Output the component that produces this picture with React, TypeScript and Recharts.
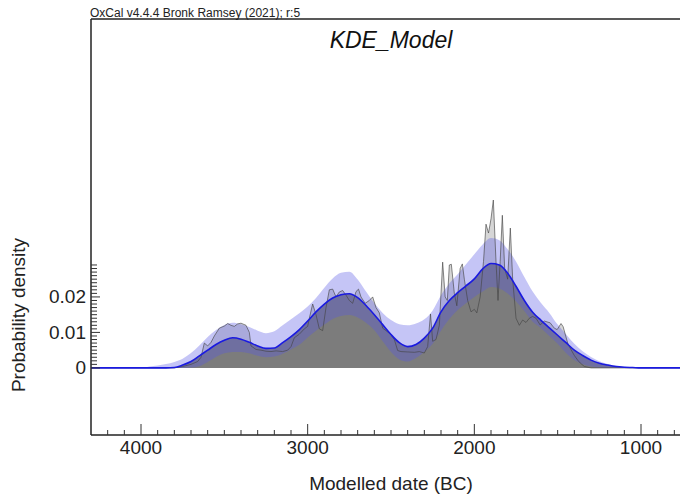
import React from 'react'
import { ComposedChart, Area, Line, XAxis, YAxis, ReferenceLine } from 'recharts'

// modelled date grid (BC) for the KDE summary curves
const years = [
  4300, 4000,
  3950, 3900, 3850, 3800, 3750, 3700, 3650, 3600, 3550, 3500,
  3450, 3400, 3350, 3300, 3250, 3200, 3150, 3100, 3050, 3000,
  2950, 2900, 2850, 2800, 2750, 2700, 2650, 2600, 2550, 2500,
  2450, 2400, 2350, 2300, 2250, 2200, 2150, 2100, 2050, 2000,
  1950, 1900, 1850, 1800, 1750, 1700, 1650, 1600, 1550, 1500,
  1450, 1400, 1350, 1300, 1250, 1200, 1150, 1100, 1050, 1000,
  900, 700,
]

const meanDensity = [
  0, 0,
  0, 0, 0, 0.0001, 0.0008, 0.0018, 0.0034, 0.005, 0.0066, 0.0078,
  0.0085, 0.0081, 0.0072, 0.0062, 0.0055, 0.0056, 0.0071, 0.0088, 0.0108, 0.0132,
  0.0158, 0.018, 0.0197, 0.0206, 0.0209, 0.0198, 0.0176, 0.015, 0.0122, 0.0094,
  0.0071, 0.006, 0.0066, 0.0084, 0.0112, 0.0158, 0.019, 0.0212, 0.0231, 0.0251,
  0.0279, 0.0294, 0.029, 0.0267, 0.023, 0.019, 0.0157, 0.0134, 0.0113, 0.0092,
  0.0071, 0.005, 0.0035, 0.0022, 0.0013, 0.0008, 0.0004, 0.0002, 0.0001, 0,
  0, 0,
]

const upperDensity = [
  0, 0,
  0.0004, 0.0007, 0.0011, 0.0017, 0.0026, 0.0042, 0.0063, 0.0087, 0.0107, 0.0121,
  0.0127, 0.0123, 0.0115, 0.0105, 0.0098, 0.0103, 0.012, 0.0137, 0.0154, 0.0173,
  0.0197, 0.0226, 0.0252, 0.0268, 0.0271, 0.0249, 0.0215, 0.0182, 0.0155, 0.0135,
  0.0123, 0.012, 0.0125, 0.0137, 0.0162, 0.0205, 0.0238, 0.0264, 0.0292, 0.032,
  0.0348, 0.0366, 0.036, 0.0334, 0.03, 0.0256, 0.0215, 0.0183, 0.0155, 0.0122,
  0.0095, 0.0068, 0.0047, 0.0031, 0.0019, 0.0011, 0.0006, 0.0003, 0.0001, 0,
  0, 0,
]

const lowerDensity = [
  0, 0,
  0, 0, 0, 0, 0, 0.0001, 0.0005, 0.0017, 0.0031, 0.0041,
  0.0045, 0.0045, 0.0041, 0.0034, 0.003, 0.0032, 0.004, 0.0052, 0.0065, 0.0086,
  0.0105, 0.0122, 0.0138, 0.0146, 0.0149, 0.0142, 0.0127, 0.0106, 0.0075, 0.0045,
  0.0024, 0.0018, 0.0028, 0.0045, 0.0068, 0.0105, 0.0138, 0.0163, 0.0182, 0.02,
  0.0215, 0.0228, 0.0224, 0.021, 0.0188, 0.016, 0.013, 0.0112, 0.009, 0.0068,
  0.0042, 0.0022, 0.001, 0.0004, 0.0001, 0, 0, 0, 0, 0,
  0, 0,
]

// unmodelled summed probability (the spiky light grey outline)
const sumYears = [
  4300, 3800, 3750, 3700, 3660, 3640, 3620, 3600, 3580, 3560,
  3530, 3500, 3480, 3460, 3440, 3420, 3400, 3370, 3350, 3340,
  3310, 3280, 3250, 3220, 3190, 3150, 3120, 3100, 3080, 3050,
  3020, 3000, 2990, 2970, 2950, 2930, 2910, 2890, 2870, 2850,
  2830, 2810, 2790, 2770, 2750, 2730, 2710, 2695, 2680, 2655,
  2630, 2610, 2590, 2570, 2550, 2530, 2500, 2480, 2460, 2440,
  2400, 2360, 2330, 2300, 2280, 2263, 2250, 2230, 2210, 2190,
  2175, 2162, 2150, 2138, 2120, 2105, 2085, 2072, 2060, 2040,
  2020, 2000, 1985, 1965, 1945, 1930, 1915, 1900, 1886, 1870,
  1858, 1845, 1832, 1818, 1800, 1784, 1770, 1750, 1730, 1710,
  1690, 1670, 1650, 1630, 1605, 1580, 1545, 1520, 1503, 1480,
  1467, 1440, 1425, 1400, 1380, 1365, 1340, 1300, 700,
]

const sumDensity = [
  0, 0, 0.0004, 0.001, 0.0018, 0.003, 0.007, 0.0062, 0.0072, 0.009,
  0.0112, 0.0118, 0.0125, 0.012, 0.0117, 0.0124, 0.0126, 0.012, 0.01, 0.0062,
  0.0052, 0.005, 0.0047, 0.0046, 0.0048, 0.0046, 0.005, 0.006, 0.0085, 0.0095,
  0.011, 0.0117, 0.014, 0.018, 0.015, 0.011, 0.0105, 0.017, 0.022, 0.0222,
  0.02, 0.0214, 0.0218, 0.0205, 0.019, 0.0182, 0.0215, 0.0222, 0.02, 0.0182,
  0.019, 0.02, 0.017, 0.0155, 0.0112, 0.0105, 0.0094, 0.008, 0.0049, 0.0046,
  0.0045, 0.0044, 0.0046, 0.0042, 0.006, 0.0152, 0.0075, 0.008, 0.012, 0.0298,
  0.02, 0.019, 0.029, 0.0292, 0.021, 0.0175, 0.028, 0.0293, 0.025, 0.019,
  0.0158, 0.0165, 0.0155, 0.02, 0.03, 0.0405, 0.038, 0.042, 0.0473, 0.03,
  0.019, 0.03, 0.043, 0.028, 0.025, 0.0394, 0.025, 0.014, 0.012, 0.0135,
  0.0128, 0.014, 0.0145, 0.014, 0.0121, 0.0132, 0.0127, 0.0112, 0.0108, 0.0125,
  0.0116, 0.007, 0.0056, 0.0035, 0.0022, 0.0014, 0.0004, 0, 0,
]

const yTickLabels = [0, 0.01, 0.02]
const xTickLabels = [4000, 3000, 2000, 1000]

const X_DOMAIN: [number, number] = [700, 4300]
const Y_DOMAIN: [number, number] = [-0.0189, 0.0983]
const LEFT = 91
const BOTTOM = 435
const FONT = '"Liberation Sans", Arial, sans-serif'

const yTicks = Array.from({ length: 30 }, (_, i) => i / 1000)
const xTicks = Array.from({ length: 35 }, (_, i) => 800 + i * 100)

const kdeData = years.map((year, i) => ({
  year,
  mean: meanDensity[i],
  band: [lowerDensity[i], upperDensity[i]],
}))
const sumData = sumYears.map((year, i) => ({ year, sum: sumDensity[i] }))

function YTick({ y, payload }: any) {
  const v = payload.value
  const labelled = yTickLabels.some(t => Math.abs(t - v) < 1e-9)
  return (
    <g>
      <line x1={LEFT} x2={LEFT + (labelled ? 9 : 6)} y1={y} y2={y} stroke="#333" strokeWidth={1} />
      {labelled && (
        <text x={86} y={y} textAnchor="end" dominantBaseline="central" fontSize={19} fill="#222" fontFamily={FONT}>
          {v === 0 ? '0' : v.toFixed(2)}
        </text>
      )}
    </g>
  )
}

function XTick({ x, payload }: any) {
  const labelled = xTickLabels.includes(payload.value)
  return (
    <g>
      <line x1={x} x2={x} y1={BOTTOM} y2={BOTTOM - (labelled ? 11 : 5)} stroke="#333" strokeWidth={1} />
      {labelled && (
        <text x={x} y={447} textAnchor="middle" dominantBaseline="central" fontSize={19} fill="#222" fontFamily={FONT}>
          {payload.value}
        </text>
      )}
    </g>
  )
}

export default function App() {
  return (
    <div style={{ position: 'fixed', left: 0, top: 0, width: 680, height: 496, overflow: 'hidden', background: '#fff' }}>
      <div style={{ position: 'relative', width: 700, height: 496 }}>
        <ComposedChart width={700} height={496} margin={{ top: 19, right: 9, bottom: 0, left: 0 }}>
          <XAxis
            type="number"
            dataKey="year"
            domain={X_DOMAIN}
            reversed
            allowDataOverflow
            ticks={xTicks}
            interval={0}
            tick={(p: any) => <XTick {...p} />}
            tickLine={false}
            height={61}
            axisLine={{ stroke: '#222', strokeWidth: 1.5 }}
          />
          <YAxis
            type="number"
            domain={Y_DOMAIN}
            allowDataOverflow
            ticks={yTicks}
            interval={0}
            tick={(p: any) => <YTick {...p} />}
            tickLine={false}
            width={91}
            axisLine={{ stroke: '#222', strokeWidth: 1.5 }}
          />
          <ReferenceLine y={Y_DOMAIN[1]} stroke="#222" strokeWidth={1.5} />
          <Area
            data={sumData}
            dataKey="sum"
            type="linear"
            fill="#d6d6d6"
            fillOpacity={1}
            stroke="none"
            baseValue={0}
            isAnimationActive={false}
          />
          <Area
            data={kdeData}
            dataKey="mean"
            type="monotone"
            fill="#7c7c7c"
            fillOpacity={1}
            stroke="none"
            baseValue={0}
            isAnimationActive={false}
          />
          <Area
            data={kdeData}
            dataKey="band"
            type="monotone"
            fill="#5a5ae6"
            fillOpacity={0.35}
            stroke="none"
            isAnimationActive={false}
          />
          <Line
            data={sumData}
            dataKey="sum"
            type="linear"
            stroke="#444"
            strokeWidth={0.8}
            strokeOpacity={0.8}
            dot={false}
            isAnimationActive={false}
          />
          <Line
            data={kdeData}
            dataKey="mean"
            type="monotone"
            stroke="#1a1ae0"
            strokeWidth={1.6}
            dot={false}
            isAnimationActive={false}
          />
        </ComposedChart>
        <svg width={700} height={496} style={{ position: 'absolute', left: 0, top: 0, pointerEvents: 'none' }}>
          <text x={90} y={17} fontSize={12} fill="#222" fontFamily={FONT}>
            OxCal v4.4.4 Bronk Ramsey (2021); r:5
          </text>
          <text x={391} y={48} textAnchor="middle" fontSize={23} fontStyle="italic" fill="#111" fontFamily={FONT}>
            KDE_Model
          </text>
          <text
            x={18}
            y={315}
            transform="rotate(-90 18 315)"
            textAnchor="middle"
            dominantBaseline="central"
            fontSize={19}
            fill="#222"
            fontFamily={FONT}
          >
            Probability density
          </text>
          <text x={391} y={483} textAnchor="middle" dominantBaseline="central" fontSize={19} fill="#222" fontFamily={FONT}>
            Modelled date (BC)
          </text>
        </svg>
      </div>
    </div>
  )
}
